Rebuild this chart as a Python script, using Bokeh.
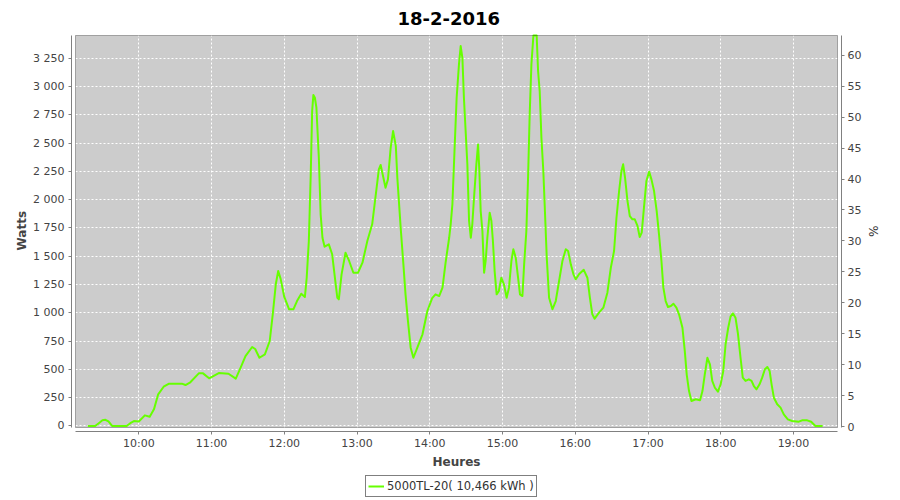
from bokeh.plotting import figure
from bokeh.models import (Range1d, LinearAxis, FixedTicker, BoxAnnotation,
                          Legend, LegendItem, Title)
from bokeh.embed import file_html
from bokeh.resources import INLINE

title_text = "18-2-2016"
series_name = "5000TL-20( 10,466 kWh )"
x_label = "Heures"
y_label = "Watts"
y2_label = "%"

times = [
    "9:18:00", "9:24:00", "9:27:00", "9:30:00", "9:32:30", "9:35:00", "9:38:00", "9:50:00",
    "9:53:00", "9:56:00", "10:00:00", "10:05:00", "10:09:00", "10:12:30", "10:16:00", "10:20:30",
    "10:25:00", "10:35:30", "10:38:30", "10:42:30", "10:49:30", "10:53:00", "10:58:00", "11:06:00",
    "11:14:00", "11:20:00", "11:24:00", "11:28:00", "11:33:30", "11:36:00", "11:39:30", "11:44:00",
    "11:48:00", "11:50:30", "11:53:00", "11:55:00", "11:57:00", "12:00:00", "12:04:00", "12:07:30",
    "12:10:30", "12:14:00", "12:17:00", "12:18:30", "12:20:15", "12:21:45", "12:23:00", "12:24:00",
    "12:25:15", "12:26:30", "12:28:30", "12:30:00", "12:31:30", "12:33:15", "12:36:45", "12:39:30",
    "12:41:45", "12:43:45", "12:45:00", "12:47:15", "12:50:30", "12:53:30", "12:57:00", "13:00:45",
    "13:04:30", "13:08:30", "13:12:30", "13:15:30", "13:18:00", "13:19:30", "13:21:45", "13:23:30",
    "13:25:30", "13:27:45", "13:29:45", "13:32:00", "13:33:15", "13:36:00", "13:38:15", "13:40:00",
    "13:42:00", "13:44:15", "13:46:30", "13:49:45", "13:54:00", "13:58:00", "14:02:00", "14:04:45",
    "14:07:45", "14:10:30", "14:13:00", "14:16:00", "14:17:15", "14:18:40", "14:20:30", "14:22:10",
    "14:24:05", "14:25:30", "14:26:55", "14:28:10", "14:29:35", "14:31:00", "14:32:25", "14:33:50",
    "14:35:05", "14:36:30", "14:38:25", "14:39:50", "14:40:55", "14:42:00", "14:43:25", "14:44:50",
    "14:46:05", "14:47:30", "14:49:25", "14:50:50", "14:52:05", "14:53:30", "14:55:10", "14:57:00",
    "14:59:00", "15:01:10", "15:03:25", "15:05:20", "15:07:20", "15:08:55", "15:10:55", "15:12:50",
    "15:14:25", "15:16:25", "15:17:50", "15:19:40", "15:21:00", "15:22:25", "15:23:50", "15:25:30",
    "15:28:10", "15:29:20", "15:30:40", "15:32:05", "15:33:40", "15:35:05", "15:36:30", "15:38:25",
    "15:41:10", "15:43:55", "15:46:40", "15:49:25", "15:52:10", "15:54:05", "15:56:20", "15:58:30",
    "16:00:25", "16:03:05", "16:07:00", "16:10:00", "16:12:05", "16:14:05", "16:16:00", "16:19:35",
    "16:23:10", "16:26:30", "16:29:20", "16:32:00", "16:34:00", "16:36:10", "16:38:05", "16:39:30",
    "16:41:05", "16:43:05", "16:45:00", "16:47:10", "16:49:05", "16:51:20", "16:53:10", "16:54:50",
    "16:56:40", "16:58:40", "17:00:55", "17:02:50", "17:05:00", "17:07:10", "17:09:05", "17:11:05",
    "17:12:40", "17:14:35", "17:16:30", "17:18:50", "17:21:00", "17:23:25", "17:25:35", "17:28:25",
    "17:30:20", "17:31:55", "17:33:50", "17:35:50", "17:39:20", "17:42:55", "17:44:55", "17:46:50",
    "17:49:00", "17:51:05", "17:53:00", "17:55:10", "17:57:40", "17:59:55", "18:02:05", "18:04:00",
    "18:06:10", "18:08:05", "18:10:00", "18:12:10", "18:14:05", "18:16:20", "18:18:10", "18:20:25",
    "18:23:10", "18:25:25", "18:27:20", "18:29:30", "18:32:00", "18:34:10", "18:36:25", "18:38:25",
    "18:40:20", "18:41:55", "18:43:50", "18:46:35", "18:49:20", "18:52:00", "18:55:20", "18:58:55",
    "19:04:25", "19:07:05", "19:11:20", "19:14:35", "19:18:05", "19:24:00",
]
watts = [
    0, 0, 25, 50, 55, 40, 0, 0,
    25, 44, 40, 94, 82, 147, 280, 347,
    374, 374, 362, 386, 465, 465, 421, 468,
    462, 418, 515, 618, 698, 680, 603, 633,
    751, 987, 1252, 1369, 1300, 1140, 1031, 1031,
    1104, 1169, 1140, 1310, 1634, 2193, 2783, 2924,
    2900, 2812, 2370, 1870, 1663, 1584, 1605, 1517,
    1310, 1133, 1119, 1340, 1531, 1458, 1354, 1354,
    1443, 1634, 1782, 2047, 2268, 2306, 2193, 2105,
    2179, 2458, 2606, 2473, 2193, 1752, 1428, 1163,
    928, 692, 603, 692, 810, 1016, 1130, 1163,
    1148, 1222, 1440, 1663, 1782, 1958, 2458, 2900,
    3195, 3357, 3253, 2900, 2606, 2312, 1811, 1663,
    1782, 2017, 2312, 2488, 2253, 1899, 1723, 1354,
    1458, 1663, 1884, 1811, 1634, 1369, 1163, 1193,
    1310, 1252, 1133, 1222, 1458, 1561, 1487, 1310,
    1163, 1148, 1428, 1723, 2164, 2753, 3195, 3450,
    3450, 3136, 2959, 2547, 2253, 1870, 1487, 1133,
    1031, 1104, 1281, 1458, 1561, 1546, 1428, 1340,
    1296, 1340, 1380, 1310, 1133, 987, 948, 1001,
    1045, 1178, 1398, 1546, 1840, 2076, 2253, 2312,
    2193, 1988, 1855, 1826, 1826, 1767, 1670, 1708,
    1929, 2164, 2247, 2179, 2076, 1899, 1693, 1458,
    1222, 1104, 1051, 1060, 1080, 1045, 987, 868,
    663, 457, 309, 221, 236, 227, 309, 457,
    603, 545, 398, 338, 303, 368, 486, 722,
    868, 966, 996, 957, 824, 603, 427, 398,
    412, 398, 353, 324, 368, 427, 501, 521,
    486, 368, 250, 192, 162, 103, 59, 44,
    38, 50, 50, 38, 0, 0,
]

x_ticks = [10, 11, 12, 13, 14, 15, 16, 17, 18, 19]
x_tick_labels = ["10:00", "11:00", "12:00", "13:00", "14:00", "15:00", "16:00", "17:00", "18:00", "19:00"]
y_ticks = [0, 250, 500, 750, 1000, 1250, 1500, 1750, 2000, 2250, 2500, 2750, 3000, 3250]
y_tick_labels = ["0", "250", "500", "750", "1 000", "1 250", "1 500", "1 750", "2 000",
                 "2 250", "2 500", "2 750", "3 000", "3 250"]
pct_ticks = [0, 5, 10, 15, 20, 25, 30, 35, 40, 45, 50, 55, 60]

# plot-area extents (data units) and pixel geometry
X_LO, X_HI = 9.130, 19.605
Y_LO, Y_HI = -13.3, 3450.0
P_LO, P_HI = -0.15, 63.2
AREA_W, AREA_H = 762, 392
GAP = 4        # axis offset from the plot area, px
BELOW = 69     # px below the axes reserved for the axis title and the legend
PX_X = AREA_W / (X_HI - X_LO)
PX_Y = AREA_H / (Y_HI - Y_LO)
PX_P = AREA_H / (P_HI - P_LO)

FRAME_W = AREA_W + 2 * GAP
FRAME_H = AREA_H + 2 * GAP + BELOW
B_LEFT, B_TOP = 71, 31
B_RIGHT = 900 - B_LEFT - FRAME_W


def to_hours(s):
    h, m, sec = (int(v) for v in s.split(":"))
    return h + m / 60 + sec / 3600


xs = [to_hours(t) for t in times]

FONT = "DejaVu Sans"
GRAY_TXT = "#444444"
AXIS_COL = "#808080"

p = figure(
    frame_width=FRAME_W, frame_height=FRAME_H,
    x_range=Range1d(X_LO - GAP / PX_X, X_HI + GAP / PX_X),
    y_range=Range1d(Y_LO - (GAP + BELOW) / PX_Y, Y_HI + GAP / PX_Y),
    output_backend="svg", toolbar_location=None,
    min_border_left=B_LEFT, min_border_right=B_RIGHT,
    min_border_top=B_TOP, min_border_bottom=0,
    background_fill_color="white", border_fill_color="white", outline_line_color=None,
    title=title_text,
)
p.extra_y_ranges = {"pct": Range1d(P_LO - (GAP + BELOW) / PX_P, P_HI + GAP / PX_P)}

p.title.text_font = FONT
p.title.text_font_size = "18px"
p.title.text_font_style = "bold"
p.title.text_color = "black"
p.title.align = "left"
p.title.offset = 326
p.title.text_line_height = 0.8
p.title.standoff = 13

plot_bg = BoxAnnotation(left=X_LO, right=X_HI, bottom=Y_LO, top=Y_HI,
                        fill_color="#CCCCCC", fill_alpha=1.0, line_color=None, level="image")
plot_border = BoxAnnotation(left=X_LO, right=X_HI, bottom=Y_LO, top=Y_HI,
                            fill_alpha=0.0, line_color="black", line_width=1, level="overlay")
p.add_layout(plot_bg)

r = p.line(xs, watts, line_color="#66FF00", line_width=2, line_join="round")
p.add_layout(plot_border)

# axes
xa = p.xaxis[0]
ya = p.yaxis[0]
xa.fixed_location = Y_LO - GAP / PX_Y
xa.ticker = FixedTicker(ticks=x_ticks)
xa.major_label_overrides = dict(zip(x_ticks, x_tick_labels))
xa.bounds = (X_LO, X_HI)
xa.axis_label = x_label
xa.major_label_standoff = 2
xa.axis_label_standoff = 2
ya.ticker = FixedTicker(ticks=y_ticks)
ya.major_label_overrides = dict(zip(y_ticks, y_tick_labels))
ya.bounds = (Y_LO, Y_HI)
ya.major_label_standoff = 4

ya2 = LinearAxis(y_range_name="pct", ticker=FixedTicker(ticks=pct_ticks), bounds=(P_LO, P_HI))
ya2.major_label_standoff = 3
p.add_layout(ya2, "right")

for ax in (xa, ya, ya2):
    ax.axis_line_color = AXIS_COL
    ax.major_tick_line_color = AXIS_COL
    ax.major_tick_out = 3
    ax.major_tick_in = 0
    ax.minor_tick_line_color = None
    ax.major_label_text_font = FONT
    ax.major_label_text_font_size = "11px"
    ax.major_label_text_color = GRAY_TXT
    ax.axis_label_text_font = FONT
    ax.axis_label_text_font_size = "12px"
    ax.axis_label_text_font_style = "bold"
    ax.axis_label_text_color = GRAY_TXT

# y-axis titles centred on the plot area (not on the taller frame)
y_title = Title(text=y_label, align="left", offset=250, standoff=4,
                text_font=FONT, text_font_size="12px", text_font_style="bold",
                text_color=GRAY_TXT)
p.add_layout(y_title, "left")
y2_title = Title(text=y2_label, align="left", offset=194, standoff=3,
                 text_font=FONT, text_font_size="12px", text_font_style="normal",
                 text_color="#333333")
p.add_layout(y2_title, "right")

p.xgrid.ticker = FixedTicker(ticks=x_ticks)
p.ygrid.ticker = FixedTicker(ticks=y_ticks)
for g in (p.xgrid[0], p.ygrid[0]):
    g.grid_line_color = "white"
    g.grid_line_dash = "2 2"
    g.grid_line_width = 1
p.xgrid[0].bounds = (Y_LO, Y_HI)

# legend under the axis title: (x, y) of its bottom-left corner, px from the frame's bottom-left
legend = Legend(
    items=[LegendItem(label=series_name, renderers=[r])],
    location=(294, 3), orientation="horizontal",
    border_line_color="black", border_line_width=1,
    background_fill_color="white", background_fill_alpha=1.0,
    padding=2, margin=0, spacing=0,
    glyph_width=16, glyph_height=16, label_height=16, label_standoff=3,
    label_text_font=FONT, label_text_font_size="11.5px", label_text_color="#333333",
)
p.add_layout(legend, "center")

open("out.html", "w").write(file_html(p, INLINE))
